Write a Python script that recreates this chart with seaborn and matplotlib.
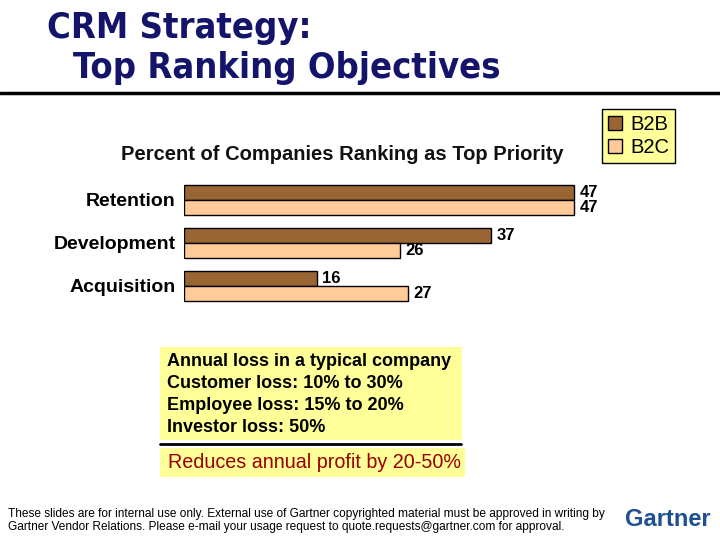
import pandas as pd
import matplotlib.pyplot as plt
import matplotlib.patches as mpatches
import seaborn as sns

# chart data
objectives = ['Retention', 'Development', 'Acquisition']
b2b = [47, 37, 16]
b2c = [47, 26, 27]
segments = ['B2B', 'B2C']

notes = ['Annual loss in a typical company',
         'Customer loss: 10% to 30%',
         'Employee loss: 15% to 20%',
         'Investor loss: 50%']

df = pd.DataFrame({
    'Objective': objectives * 2,
    'Segment': ['B2B'] * 3 + ['B2C'] * 3,
    'Percent': b2b + b2c,
})

sns.set_style("white")
plt.rcParams['font.family'] = ['Liberation Sans', 'DejaVu Sans']
plt.rcParams['text.color'] = 'black'
plt.rcParams['ytick.color'] = 'black'
plt.rcParams['ytick.labelcolor'] = 'black'

W, H = 720, 540
fig = plt.figure(figsize=(7.2, 5.4), dpi=100)


def fx(px):
    return px / W


def fy(py):
    return 1 - py / H


# bar area
ax = fig.add_axes([fx(184), fy(307.5), fx(415), 129 / H])
colors = {'B2B': '#996633', 'B2C': '#FFCC99'}
sns.barplot(data=df, y='Objective', x='Percent', hue='Segment',
            order=objectives, hue_order=segments, palette=colors,
            orient='h', width=0.7, edgecolor='black', linewidth=1,
            saturation=1, legend=False, ax=ax)
ax.set_xlim(0, 50)
ax.set_ylim(2.5, -0.5)
ax.set_xlabel('')
ax.set_ylabel('')
ax.set_xticks([])
for s in ax.spines.values():
    s.set_visible(False)
ax.tick_params(axis='y', length=0, pad=6, labelcolor='black')
for lab in ax.get_yticklabels():
    lab.set_fontsize(14)
    lab.set_fontweight('bold')
for cont in ax.containers:
    ax.bar_label(cont, padding=4, fontsize=12, fontweight='bold', color='black')

# title
navy = '#14146b'
fig.text(fx(47), fy(28), 'CRM Strategy:', fontsize=26, fontweight='bold',
         color=navy, va='center', family='DejaVu Sans', fontstretch='condensed')
fig.text(fx(73), fy(68), 'Top Ranking Objectives', fontsize=26, fontweight='bold',
         color=navy, va='center', family='DejaVu Sans', fontstretch='condensed')
fig.add_artist(plt.Line2D([0, 1], [fy(93), fy(93)], color='black', lw=2.5))

# subtitle
fig.text(fx(342), fy(154), 'Percent of Companies Ranking as Top Priority',
         fontsize=14.5, fontweight='bold', ha='center', va='center', color='#111111')

# legend
handles = [mpatches.Patch(facecolor=colors[s], edgecolor='black', label=s) for s in segments]
leg = fig.legend(handles=handles, loc='upper left',
                 bbox_to_anchor=(fx(602), fy(109)), fontsize=14.5,
                 frameon=True, fancybox=False, handlelength=0.7, handleheight=0.7,
                 handletextpad=0.4, borderpad=0.3, labelspacing=0.2, borderaxespad=0)
leg.get_frame().set_facecolor('#FFFF99')
leg.get_frame().set_edgecolor('black')
leg.get_frame().set_alpha(1)

# notes box
fig.add_artist(mpatches.Rectangle((fx(160), fy(440)), fx(302), 93 / H,
                                  facecolor='#FFFF99', edgecolor='none'))
for i, line in enumerate(notes):
    fig.text(fx(167), fy(362 + i * 21.7), line, fontsize=13, fontweight='bold',
             va='center', color='black')
fig.add_artist(plt.Line2D([fx(160), fx(461)], [fy(444), fy(444)], color='black', lw=2))
fig.add_artist(mpatches.Rectangle((fx(160), fy(477)), fx(305), 29 / H,
                                  facecolor='#FFFF99', edgecolor='none'))
fig.text(fx(168), fy(463), 'Reduces annual profit by 20-50%', fontsize=14.2,
         va='center', color='#990000')

# footer
fig.text(fx(8), fy(514), 'These slides are for internal use only. External use of Gartner copyrighted '
         'material must be approved in writing by', fontsize=8.6, va='center')
fig.text(fx(8), fy(527), 'Gartner Vendor Relations. Please e-mail your usage request to '
         'quote.requests@gartner.com for approval.', fontsize=8.6, va='center')
fig.text(fx(625), fy(519), 'Gartner', fontsize=17, fontweight='bold',
         color='#1f4f8f', va='center')

fig.savefig('out.png', dpi=100)
